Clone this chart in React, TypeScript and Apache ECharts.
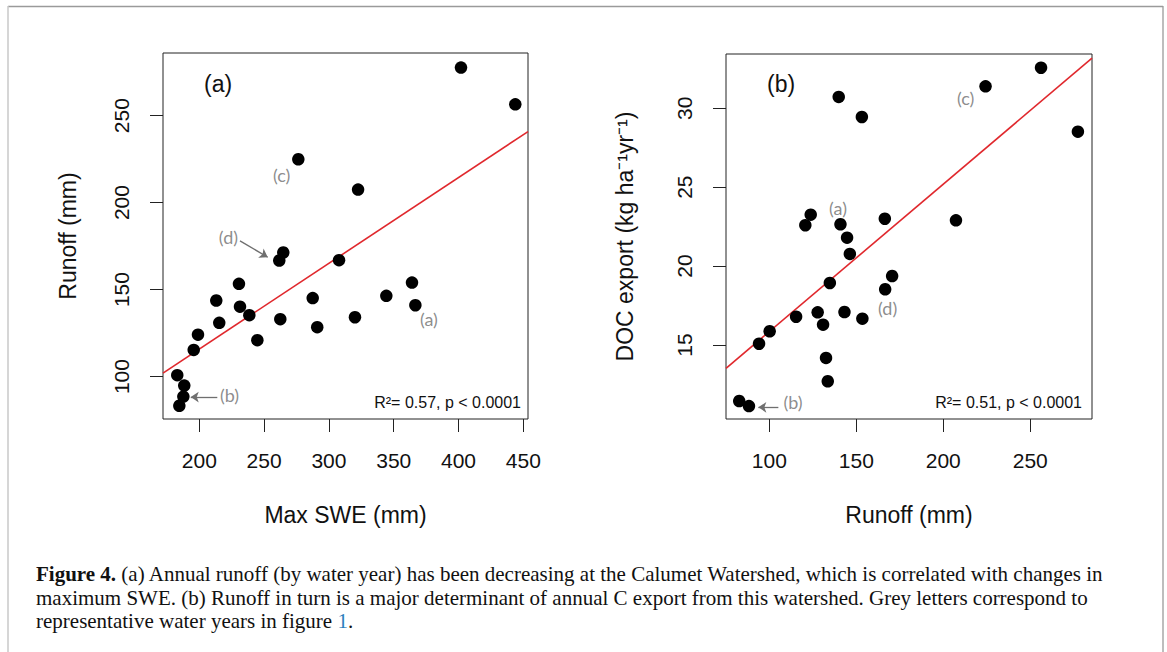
import React, { useEffect, useRef } from "react";
import * as echarts from "echarts";

// Panel (a): Max SWE (mm) vs Runoff (mm)
const sweA = [401.9, 443.8, 276.4, 322.5, 264.8, 261.7, 307.8, 230.6, 364.1, 213.1, 231.4, 287.5, 344.3, 366.7, 238.6, 215.4, 262.5, 320.1, 291.0, 199.0, 244.8, 195.7, 183.0, 188.4, 187.7, 184.6];
const runoffA = [277.6, 256.5, 224.9, 207.5, 171.3, 166.7, 166.9, 153.3, 154.0, 143.7, 140.2, 145.1, 146.4, 141.0, 135.3, 130.9, 133.0, 134.1, 128.4, 124.1, 120.9, 115.3, 100.8, 94.8, 88.5, 83.2];
// Panel (b): Runoff (mm) vs DOC export
const runoffB = [256.2, 224.3, 277.4, 139.9, 153.2, 123.8, 120.7, 140.9, 166.4, 207.3, 144.7, 146.3, 170.6, 166.6, 134.8, 115.4, 127.8, 143.2, 153.5, 130.9, 100.2, 94.1, 132.6, 133.6, 82.7, 88.3];
const docB = [32.57, 31.39, 28.52, 30.72, 29.45, 23.26, 22.59, 22.65, 23.0, 22.9, 21.8, 20.77, 19.37, 18.53, 18.93, 16.79, 17.07, 17.09, 16.67, 16.29, 15.87, 15.08, 14.18, 12.7, 11.45, 11.13];

// Tick labels
const xTicksA = [200, 250, 300, 350, 400, 450];
const yTicksA = [100, 150, 200, 250];
const xTicksB = [100, 150, 200, 250];
const yTicksB = [15, 20, 25, 30];

// Axis ranges
const xRangeA = [172, 453.6];
const yRangeA = [75.6, 286];
const xRangeB = [75.1, 285.5];
const yRangeB = [10.31, 33.44];

// Regression fits (intercept, slope)
const fitA = [17.2, 0.493];
const fitB = [6.51, 0.0934];

// Grey annotation letters [x, y, label]
const notesA: [number, number, string][] = [
  [263.6, 215.6, "(c)"],
  [222.5, 180.5, "(d)"],
  [377.2, 133.2, "(a)"],
  [223.3, 89.2, "(b)"],
];
const notesB: [number, number, string][] = [
  [212.9, 30.68, "(c)"],
  [139.5, 23.66, "(a)"],
  [168.0, 17.33, "(d)"],
  [113.6, 11.36, "(b)"],
];
// Arrows [[x1,y1],[x2,y2]]
const arrowsA = [
  [[231.4, 178.0], [252.8, 168.6]],
  [[213.9, 88.2], [193.4, 88.2]],
];
const arrowsB = [[[105.2, 11.05], [93.7, 11.05]]];

const SANS = "'Liberation Sans', Arial, sans-serif";
const NOTE_FONT = "Lato, 'Open Sans', sans-serif";
const SERIF = "'Liberation Serif', 'Times New Roman', serif";
const GREY = "#6f6f6f";

function xAxis(range: number[], ticks: number[], grid: number, name: string) {
  return {
    type: "value",
    gridIndex: grid,
    min: range[0],
    max: range[1],
    name,
    nameLocation: "middle",
    nameGap: 84,
    nameTextStyle: { fontFamily: SANS, fontSize: 23, color: "#111" },
    splitLine: { show: false },
    axisLine: { show: false },
    axisTick: { show: true, length: 13, customValues: ticks, lineStyle: { color: "#222", width: 1 } },
    axisLabel: { customValues: ticks, fontFamily: SANS, fontSize: 21, color: "#111", margin: 31 },
  };
}

function yAxis(range: number[], ticks: number[], grid: number, name: string, gap: number) {
  return {
    type: "value",
    gridIndex: grid,
    min: range[0],
    max: range[1],
    name,
    nameLocation: "middle",
    nameRotate: 90,
    nameGap: gap,
    nameTextStyle: { fontFamily: SANS, fontSize: 23, color: "#111" },
    splitLine: { show: false },
    axisLine: { show: false },
    axisTick: { show: true, length: 13, customValues: ticks, lineStyle: { color: "#222", width: 1 } },
    axisLabel: { customValues: ticks, rotate: 90, fontFamily: SANS, fontSize: 21, color: "#111", margin: 31 },
  };
}

function panelSeries(
  idx: number,
  xs: number[],
  ys: number[],
  xRange: number[],
  fit: number[],
  notes: [number, number, string][],
  arrows: number[][][]
) {
  return [
    {
      type: "line",
      xAxisIndex: idx,
      yAxisIndex: idx,
      data: [
        [xRange[0], fit[0] + fit[1] * xRange[0]],
        [xRange[1], fit[0] + fit[1] * xRange[1]],
      ],
      showSymbol: false,
      symbol: "none",
      lineStyle: { color: "#e0282d", width: 1.6 },
      silent: true,
      z: 2,
    },
    {
      type: "scatter",
      xAxisIndex: idx,
      yAxisIndex: idx,
      data: xs.map((x, i) => [x, ys[i]]),
      symbol: "circle",
      symbolSize: 12.5,
      itemStyle: { color: "#000", opacity: 1 },
      z: 3,
    },
    {
      type: "scatter",
      xAxisIndex: idx,
      yAxisIndex: idx,
      data: notes.map((n) => ({ value: [n[0], n[1]], name: n[2] })),
      symbol: "circle",
      symbolSize: 1,
      itemStyle: { color: "rgba(0,0,0,0)" },
      label: {
        show: true,
        position: "inside",
        formatter: "{b}",
        fontFamily: NOTE_FONT,
        fontSize: 18,
        color: GREY,
      },
      silent: true,
      markLine: {
        silent: true,
        symbol: ["none", "arrow"],
        symbolSize: 8,
        label: { show: false },
        lineStyle: { color: GREY, width: 1.3, type: "solid" },
        data: arrows.map((a) => [{ coord: a[0] }, { coord: a[1] }]),
      },
      z: 4,
    },
  ];
}

export default function App() {
  const ref = useRef<HTMLDivElement>(null);
  useEffect(() => {
    if (!ref.current) return;
    const chart = echarts.init(ref.current, undefined, { renderer: "svg" });
    const captionStyle = {
      fontFamily: SERIF,
      fontSize: 21,
      fill: "#111",
      verticalAlign: "middle",
      align: "left",
    };
    chart.setOption({
      animation: false,
      backgroundColor: "#fff",
      grid: [
        { left: 163, top: 53, width: 365, height: 366, show: true, borderColor: "#222", borderWidth: 1, backgroundColor: "transparent" },
        { left: 726, top: 54, width: 366, height: 365, show: true, borderColor: "#222", borderWidth: 1, backgroundColor: "transparent" },
      ],
      xAxis: [xAxis(xRangeA, xTicksA, 0, "Max SWE (mm)"), xAxis(xRangeB, xTicksB, 1, "Runoff (mm)")],
      yAxis: [
        yAxis(yRangeA, yTicksA, 0, "Runoff (mm)", 84),
        yAxis(yRangeB, yTicksB, 1, "DOC export (kg ha\u207B\u00B9yr\u207B\u00B9)", 90),
      ],
      series: [
        ...panelSeries(0, sweA, runoffA, xRangeA, fitA, notesA, arrowsA),
        ...panelSeries(1, runoffB, docB, xRangeB, fitB, notesB, arrowsB),
      ],
      graphic: [
        { type: "line", shape: { x1: 8, y1: 6.5, x2: 1163, y2: 6.5 }, style: { stroke: "#9a9a9a", lineWidth: 1.3 } },
        { type: "line", shape: { x1: 8, y1: 6, x2: 8, y2: 652 }, style: { stroke: "#c8c8c8", lineWidth: 1.5 } },
        { type: "line", shape: { x1: 1163, y1: 6, x2: 1163, y2: 652 }, style: { stroke: "#9a9a9a", lineWidth: 1.3 } },
        { type: "text", left: 204, top: 72, style: { text: "(a)", fontFamily: SANS, fontSize: 23, fill: "#111" } },
        { type: "text", left: 767, top: 72, style: { text: "(b)", fontFamily: SANS, fontSize: 23, fill: "#111" } },
        { type: "text", x: 521, y: 402, style: { text: "R\u00B2= 0.57, p < 0.0001", fontFamily: SANS, fontSize: 16, fill: "#111", align: "right", verticalAlign: "middle" } },
        { type: "text", x: 1082, y: 402, style: { text: "R\u00B2= 0.51, p < 0.0001", fontFamily: SANS, fontSize: 16, fill: "#111", align: "right", verticalAlign: "middle" } },
        {
          type: "text",
          x: 36,
          y: 574,
          style: {
            ...captionStyle,
            text: "{b|Figure 4.} (a) Annual runoff (by water year) has been decreasing at the Calumet Watershed, which is correlated with changes in",
            rich: { b: { fontWeight: "bold", fontFamily: SERIF, fontSize: 21, fill: "#111" } },
          },
        },
        {
          type: "text",
          x: 36,
          y: 598,
          style: {
            ...captionStyle,
            text: "maximum SWE. (b) Runoff in turn is a major determinant of annual C export from this watershed. Grey letters correspond to",
          },
        },
        {
          type: "text",
          x: 36,
          y: 621,
          style: {
            ...captionStyle,
            text: "representative water years in figure {l|1}.",
            rich: { l: { fill: "#2b7fbd", fontFamily: SERIF, fontSize: 21 } },
          },
        },
      ],
    });
    return () => chart.dispose();
  }, []);
  return <div ref={ref} style={{ position: "fixed", left: 0, top: 0, width: 1167, height: 652 }} />;
}
